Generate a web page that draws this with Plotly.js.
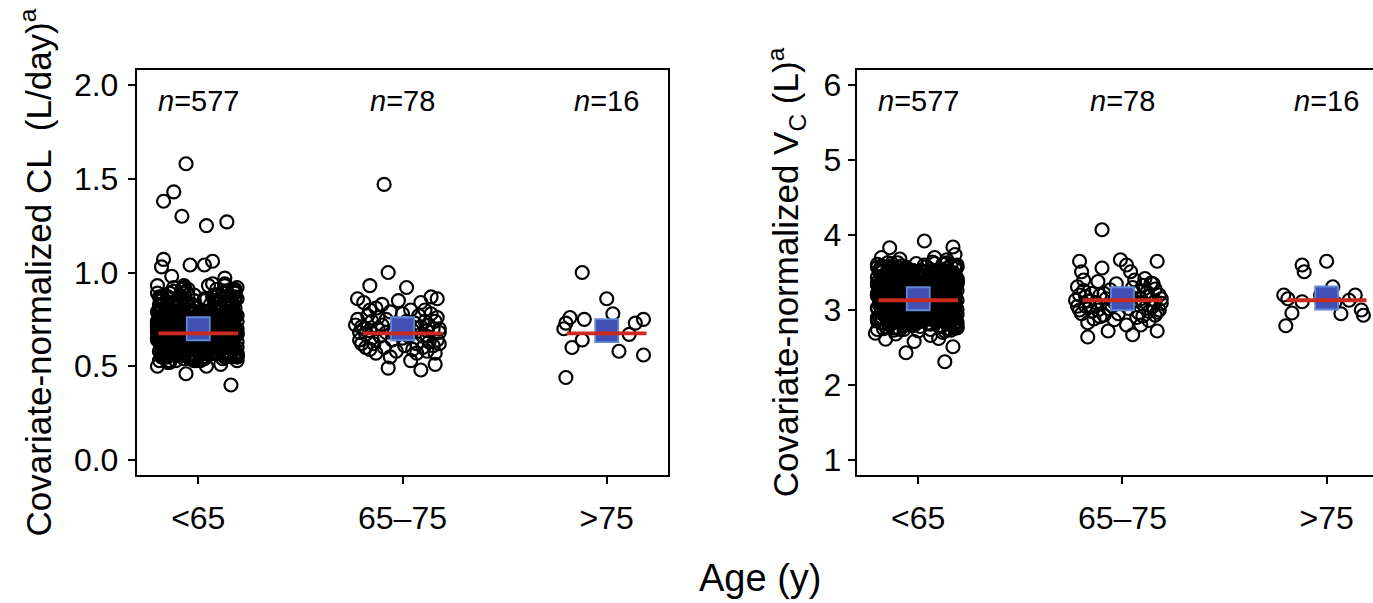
<!DOCTYPE html>
<html>
<head>
<meta charset="utf-8">
<script src="https://cdn.plot.ly/plotly-3.0.1.min.js"></script>
<style>
  html, body { margin: 0; padding: 0; background: #fff; }
  #chart { width: 1373px; height: 603px; }
</style>
</head>
<body>
<div id="chart"></div>
<script>
// Age categories shown on both panels
const ageGroups = ['<65', '65–75', '>75'];

// Horizontal jitter of the <65 subjects (shared by both panels)
const coreJitter0 = [
  -.12,.07,-.19,.15,-.03,.11,-.16,.02,.18,-.08,.05,-.14,.13,-.01,.09,-.18,.16,-.06,.03,-.10,
  .14,-.17,.04,-.09,.19,-.02,.10,-.13,.06,-.20,.12,-.05,.17,-.11,.01,.15,-.15,.08,-.07,.19,
  -.04,.16,-.11,.09,-.18,.03,.13,-.07,.18,-.15,.00,.11,-.20,.06,-.09,.14,-.02,.17,-.13,.05,
  .08,-.14,.18,-.01,.12,-.19,.04,-.10,.15,-.06,.19,-.16,.02,.10,-.12,.07,-.03,.13,-.17,.00,
  -.16,.11,-.05,.17,-.12,.06,-.20,.14,-.08,.02,.16,-.02,.09,-.18,.12,-.10,.04,-.14,.18,-.06,
  .03,-.18,.13,-.07,.09,-.15,.17,-.03,.05,-.11,.14,-.19,.08,-.04,.19,-.13,.01,.11,-.09,.16,
  -.09,.05,-.17,.12,-.01,.18,-.13,.07,-.20,.10,-.05,.15,-.10,.03,-.16,.13,.06,-.08,.17,-.14,
  .11,-.07,.02,-.15,.16,-.11,.08,-.19,.13,-.03,.06,-.17,.18,-.09,.04,-.13,.15,-.01,.10,-.18,
  -.19,.13,-.08,.04,-.14,.17,-.02,.09,-.12,.19,-.16,.07,-.05,.12,-.20,.01,.16,-.10,.06,-.04,
  .06,-.12,.16,-.19,.01,-.07,.11,-.15,.19,-.04,.09,-.18,.14,-.01,.07,-.11,.18,-.14,.03,-.08,
  -.02,.18,-.13,.10,-.17,.05,-.09,.15,-.06,.12,-.20,.02,.17,-.12,.08,-.15,.11,-.03,.14,-.19,
  .15,-.10,.07,-.16,.12,-.04,.19,-.12,.01,-.18,.14,-.07,.10,-.14,.17,-.02,.05,-.20,.09,-.06,
  -.13,.02,-.18,.14,-.06,.10,-.15,.17,-.03,.08,-.11,.19,-.17,.04,-.09,.11,-.01,.16,-.16,.12,
  .09,-.16,.12,-.03,.17,-.13,.04,-.08,.14,-.19,.07,-.10,.16,-.05,.11,-.17,.02,-.12,.19,-.01,
  -.07,.14,-.20,.06,-.10,.16,-.14,.01,.18,-.09,.03,-.16,.12,-.02,.15,-.18,.09,-.06,.13,-.11,
  .17,-.05,.09,-.17,.04,-.12,.15,-.09,.07,-.14,.19,-.01,.11,-.19,.02,-.07,.13,-.15,.05,-.03,
  -.15,.10,-.04,.19,-.11,.08,-.18,.12,-.01,.16,-.13,.05,-.20,.14,-.06,.18,-.09,.03,-.17,.07,
  .01,-.19,.14,-.08,.10,-.02,.16,-.16,.05,-.12,.17,-.04,.08,-.15,.13,-.10,.19,-.07,.00,.15,
  -.11,.17,-.06,.13,-.19,.03,-.14,.09,-.02,.18,-.08,.11,-.17,.06,-.13,.15,-.05,.10,-.20,.04,
  .12,-.08,.19,-.13,.06,-.16,.02,.14,-.10,.07,-.18,.16,-.04,.09,-.15,.01,.13,-.11,.17,-.06,
  -.05,.15,-.15,.08,-.20,.12,-.07,.18,-.12,.04,.10,-.17,.14,-.02,.07,-.14,.17,-.09,.02,-.18,
  .10,-.13,.05,-.18,.14,-.06,.11,-.11,.17,-.01,.13,-.19,.03,.16,-.08,.09,-.16,.12,-.04,.18,
  -.17,.09,-.10,.16,-.02,.13,-.19,.06,-.07,.15,-.12,.00,.18,-.15,.11,-.05,.08,-.18,.14,-.09,
  .04,-.11,.17,-.06,.11,-.20,.07,-.14,.19,-.03,.12,-.09,.06,-.16,.15,-.13,.03,-.01,.16,-.12,
  -.08,.19,-.12,.03,-.16,.14,-.05,.10,-.18,.08,-.02,.15,-.14,.11,-.19,.05,-.07,.18,-.10,.13,
  .16,-.04,.08,-.14,.18,-.10,.13,-.17,.02,-.06,.17,-.12,.09,-.20,.06,-.08,.14,-.03,.11,-.15,
  -.14,.06,-.16,.11,-.09,.19,-.01,.12,-.13,.16,-.18,.04,-.06,.17,-.11,.10,-.19,.08,-.04,.14,
  .13,-.15,.01,-.10,.15,-.07,.18,-.12,.05,-.17,.10,-.02,.16,-.09,.07,-.16,.12
];

// Covariate-normalized CL (L/day), age <65: bulk of subjects
const clCore0 = [
  .66,.71,.58,.83,.62,.69,.75,.54,.68,.91,.64,.72,.77,.60,.67,.86,.70,.63,.79,.56,
  .73,.61,.68,.88,.55,.65,.80,.70,.59,.74,.66,.84,.62,.69,.53,.76,.71,.64,.93,.67,
  .70,.57,.82,.64,.67,.74,.61,.89,.69,.52,.76,.65,.72,.60,.85,.68,.78,.63,.71,.58,
  .64,.79,.69,.55,.72,.87,.62,.66,.75,.59,.70,.81,.67,.63,.92,.73,.56,.68,.77,.61,
  .68,.60,.74,.83,.57,.71,.65,.90,.63,.77,.69,.54,.72,.80,.66,.62,.86,.70,.59,.75,
  .71,.65,.58,.78,.67,.84,.61,.73,.69,.53,.76,.64,.88,.70,.60,.72,.66,.82,.57,.74,
  .62,.75,.69,.56,.81,.67,.72,.94,.64,.59,.70,.78,.63,.85,.68,.55,.74,.66,.79,.61,
  .67,.73,.60,.87,.64,.70,.57,.76,.69,.83,.62,.66,.91,.71,.58,.75,.68,.53,.80,.65,
  .74,.63,.70,.55,.79,.66,.85,.61,.72,.68,.59,.77,.64,.89,.69,.56,.73,.82,.67,.60,
  .69,.58,.76,.65,.71,.92,.62,.80,.67,.54,.73,.68,.84,.60,.70,.63,.78,.57,.75,.66,
  .65,.81,.68,.59,.74,.70,.56,.86,.63,.77,.71,.61,.67,.90,.72,.55,.79,.64,.69,.83,
  .72,.64,.87,.60,.69,.76,.53,.71,.66,.82,.58,.74,.68,.62,.79,.70,.93,.65,.57,.73,
  .60,.77,.66,.71,.84,.57,.68,.74,.63,.88,.70,.55,.76,.65,.72,.81,.59,.67,.78,.62,
  .75,.68,.54,.80,.65,.72,.61,.86,.69,.58,.77,.64,.71,.91,.66,.60,.73,.83,.56,.70,
  .63,.70,.79,.57,.73,.67,.89,.62,.76,.68,.55,.81,.65,.72,.60,.85,.69,.74,.58,.66,
  .68,.56,.72,.83,.61,.75,.66,.59,.78,.70,.92,.64,.69,.53,.77,.71,.62,.87,.67,.73,
  .71,.62,.67,.77,.58,.85,.69,.73,.64,.55,.80,.66,.74,.60,.70,.90,.63,.76,.68,.57,
  .66,.79,.61,.70,.88,.64,.72,.56,.75,.68,.82,.59,.71,.65,.94,.73,.57,.69,.78,.62,
  .73,.59,.69,.76,.63,.54,.81,.67,.71,.86,.60,.74,.66,.79,.62,.70,.55,.84,.68,.72,
  .64,.72,.86,.58,.70,.66,.77,.61,.83,.69,.55,.74,.67,.91,.63,.78,.71,.57,.68,.75,
  .70,.66,.57,.80,.73,.62,.68,.89,.65,.75,.59,.71,.84,.64,.69,.53,.77,.72,.61,.82,
  .67,.84,.63,.71,.56,.76,.69,.60,.79,.66,.93,.72,.58,.74,.68,.81,.62,.70,.55,.87,
  .76,.61,.70,.65,.82,.58,.73,.68,.54,.85,.71,.64,.78,.60,.67,.88,.72,.57,.75,.69,
  .62,.74,.68,.90,.59,.71,.66,.79,.63,.56,.75,.69,.83,.61,.72,.67,.86,.58,.70,.77,
  .69,.57,.75,.64,.72,.81,.60,.68,.87,.66,.53,.74,.70,.62,.80,.65,.92,.71,.59,.76,
  .74,.66,.83,.59,.70,.63,.77,.55,.71,.85,.67,.61,.73,.89,.64,.69,.58,.78,.72,.65,
  .61,.72,.69,.86,.56,.74,.67,.80,.62,.71,.58,.76,.65,.91,.70,.63,.82,.68,.54,.73,
  .68,.75,.60,.79,.66,.71,.57,.84,.64,.73,.69,.88,.62,.77,.70,.55,.67
];
// CL, age <65: subjects away from the bulk (high and low values)
const clEdgeJitter0 = [-.06,-.12,-.17,-.08,.04,.14,-.06,.16,-.17,-.18,-.04,.07,.03,-.13,.13,-.20,-.20,.04,.11,-.14];
const clEdge0       = [1.58,1.43,1.38,1.30,1.25,1.27,.46,.40,1.07,1.03,1.04,1.06,1.04,.98,.97,.93,.50,.50,.51,.52];

// CL, age 65–75
const clJitter1 = [
  -.09,-.07,-.16,.02,.09,.14,.17,-.22,-.19,-.10,
  -.02,.17,-.22,-.20,-.23,-.16,-.15,.13,.18,.12,
  .16,.04,-.07,.09,.16,-.16,-.13,-.20,.10,.07,
  -.18,-.12,-.05,.00,.05,.11,.15,-.21,-.14,-.08,
  -.03,.03,.08,.13,.18,-.17,-.11,-.06,.01,.06,
  .10,.16,-.19,-.13,-.09,-.01,.04,.12,.14,-.21,
  -.15,-.10,-.04,.02,.07,.11,.17,-.18,-.12,-.06,
  .00,.05,.09,.15,-.16,-.08,.12,.18
];
const cl1 = [
  1.47,1.00,.93,.92,.84,.87,.86,.86,.84,.83,
  .85,.76,.75,.71,.72,.80,.74,.72,.62,.66,
  .57,.53,.49,.48,.51,.59,.57,.62,.60,.57,
  .67,.70,.64,.78,.69,.74,.70,.64,.62,.75,
  .58,.66,.77,.63,.68,.77,.66,.79,.61,.73,
  .66,.74,.70,.81,.60,.71,.80,.69,.78,.68,
  .65,.72,.68,.74,.62,.80,.64,.60,.76,.55,
  .65,.59,.71,.61,.69,.68,.58,.70
];

// CL, age >75
const clJitter2 = [-.12,.00,.03,-.18,-.11,-.20,-.21,.14,.18,.11,-.12,-.17,.06,.18,-.20,-.02];
const cl2       = [1.00,.86,.78,.76,.75,.73,.70,.73,.75,.67,.64,.60,.58,.56,.44,.71];

// Covariate-normalized Vc (L), age <65: bulk of subjects
const vcCore0 = [
  3.12,3.31,2.91,3.47,3.05,2.78,3.18,3.36,2.97,3.59,3.09,3.22,2.88,3.44,3.15,2.83,3.27,3.01,3.50,3.20,
  3.24,2.95,3.14,3.52,2.80,3.08,3.38,3.19,2.93,3.61,3.03,3.29,2.87,3.46,3.11,2.75,3.33,3.16,2.99,3.42,
  3.07,3.40,2.86,3.21,3.55,2.98,3.13,2.74,3.34,3.17,2.92,3.49,3.02,3.26,2.84,3.63,3.10,3.37,2.96,3.23,
  3.35,3.00,3.48,2.82,3.16,3.28,2.90,3.57,3.06,3.20,2.77,3.43,3.11,2.94,3.32,3.14,3.53,2.89,3.25,3.04,
  3.18,2.89,3.39,3.09,2.73,3.51,3.22,2.97,3.30,3.13,3.60,2.85,3.45,3.02,3.27,2.93,3.16,3.41,3.07,2.81,
  2.99,3.26,3.12,3.54,2.87,3.36,3.05,2.79,3.44,3.19,2.95,3.31,3.62,3.08,2.84,3.23,3.48,3.00,3.15,3.38,
  3.21,3.44,2.94,3.10,3.33,2.76,3.58,3.17,3.03,3.28,2.90,3.50,3.14,2.86,3.40,3.06,3.24,2.98,3.35,3.12,
  3.06,3.29,3.52,2.83,3.20,2.97,3.42,3.11,2.72,3.37,3.15,3.56,2.91,3.25,3.01,3.46,2.88,3.18,3.32,3.09,
  3.34,3.02,3.19,2.92,3.47,3.13,2.80,3.39,3.08,3.60,2.96,3.27,3.15,3.53,2.85,3.22,3.04,3.43,2.89,3.17,
  2.95,3.41,3.07,3.30,2.78,3.16,3.55,3.00,3.36,2.88,3.23,3.12,3.49,2.93,3.64,3.10,3.28,2.82,3.45,3.19,
  3.27,2.90,3.48,3.14,3.03,3.38,2.74,3.21,3.57,2.99,3.33,3.09,2.87,3.44,3.18,3.01,3.52,2.94,3.25,3.11,
  3.13,3.46,2.97,3.24,3.61,2.84,3.35,3.05,3.18,2.91,3.42,3.29,2.79,3.15,3.50,3.08,2.96,3.37,3.20,3.02,
  3.39,3.07,3.22,2.86,3.54,3.12,3.31,2.93,3.45,3.00,2.77,3.26,3.17,3.58,2.98,3.34,3.10,2.89,3.47,3.16,
  3.04,3.32,2.89,3.51,3.19,2.95,3.40,3.14,2.81,3.28,3.06,3.63,2.92,3.23,3.43,3.11,2.85,3.36,3.01,3.21,
  3.20,2.98,3.44,3.09,3.35,2.73,3.17,3.53,3.03,3.30,2.90,3.12,3.48,3.26,2.83,3.59,3.07,3.39,2.96,3.14,
  3.30,3.11,2.88,3.46,3.02,3.24,2.94,3.56,3.16,2.80,3.38,3.08,3.21,3.50,2.97,3.33,3.13,2.86,3.42,3.05,
  3.15,3.37,3.00,2.76,3.27,3.49,3.10,2.93,3.62,3.19,3.04,3.41,2.87,3.29,3.13,3.55,2.99,3.23,3.34,2.91,
  3.09,3.25,3.52,2.96,3.14,2.84,3.43,3.20,3.36,3.01,2.78,3.47,3.16,3.07,3.31,2.92,3.57,3.12,3.27,2.89,
  3.42,2.93,3.18,3.33,3.06,3.60,2.86,3.22,3.11,3.45,2.98,3.28,2.75,3.39,3.15,3.03,3.51,3.19,2.90,3.24,
  3.01,3.36,3.13,2.82,3.48,3.23,3.05,3.55,2.95,3.30,3.17,2.88,3.40,3.09,3.63,2.99,3.26,3.14,3.44,2.85,
  3.26,3.08,3.46,2.91,3.19,3.37,2.79,3.12,3.53,3.03,3.29,2.94,3.16,3.41,3.00,3.58,3.21,2.87,3.34,3.10,
  3.17,2.97,3.31,3.50,3.04,2.83,3.23,3.43,3.11,2.90,3.61,3.27,3.07,3.38,2.96,3.14,3.47,3.02,2.80,3.20,
  3.33,3.14,2.89,3.40,3.22,3.06,3.54,2.93,3.28,3.12,2.76,3.45,3.18,3.00,3.36,3.09,2.85,3.52,3.24,2.98,
  3.05,3.44,3.20,2.87,3.32,3.57,3.10,2.95,3.39,3.16,3.01,3.49,2.81,3.25,3.13,3.62,2.92,3.35,3.08,3.27,
  3.21,2.94,3.38,3.15,2.78,3.30,3.47,3.03,3.19,2.89,3.43,3.11,3.56,2.97,3.26,3.06,3.34,2.84,3.50,3.13,
  3.12,3.35,2.99,3.24,3.59,3.07,2.86,3.41,3.17,3.02,3.29,2.93,3.48,3.20,2.74,3.37,3.10,3.53,2.96,3.23,
  3.28,3.04,3.45,2.90,3.16,3.40,2.98,3.22,3.55,3.09,2.83,3.33,3.14,3.00,3.46,2.88,3.19,3.37,3.06,3.31,
  3.11,3.42,2.95,3.23,3.50,3.01,3.18,2.87,3.36,3.14,3.27,2.92,3.44,3.08,3.21,2.97,3.13
];
// Vc, age <65: subjects away from the bulk
const vcEdgeJitter0 = [.03,-.14,.17,.18,-.06,.13,.17,-.02,-.16,-.21,.10,.06,-.18,-.09,.08,.14,-.20,.00,.12,-.11];
const vcEdge0       = [3.92,3.83,3.84,3.74,2.43,2.31,2.51,2.58,2.61,2.69,2.62,2.66,3.70,3.68,3.70,3.67,2.74,2.72,2.70,2.68];

// Vc, age 65–75
const vcJitter1 = [
  -.10,-.21,-.20,-.10,-.01,.02,.04,.17,.14,.10,
  .19,.18,.16,.17,.05,-.07,-.17,.02,.09,-.11,
  -.22,-.23,-.21,-.17,-.19,-.12,-.09,-.15,-.18,-.05,
  -.13,-.06,-.16,-.02,.01,.06,.12,.15,.08,.13,
  .18,.11,.16,-.20,-.14,-.08,-.03,.03,.07,.10,
  .14,-.22,-.17,-.11,-.04,.00,.05,.09,.13,.17,
  -.19,-.12,-.07,-.01,.04,.08,.12,.16,-.21,-.15,
  -.09,-.04,.02,.06,.10,.15,-.18,.19
];
const vc1 = [
  4.07,3.65,3.51,3.56,3.67,3.60,3.51,3.65,3.36,3.33,
  3.09,3.00,2.93,2.72,2.67,2.72,2.64,2.80,2.80,2.91,
  3.31,3.13,3.00,2.83,3.40,3.00,2.93,3.22,3.18,3.05,
  3.10,3.27,3.05,2.95,3.20,3.12,3.18,3.05,3.25,2.98,
  3.20,3.42,3.28,2.95,2.88,3.15,3.35,3.02,2.90,3.08,
  3.14,3.05,3.12,3.20,3.10,3.08,3.30,3.15,2.86,2.97,
  3.26,3.38,3.02,3.13,3.18,2.96,3.24,3.12,3.20,2.98,
  3.22,2.87,3.10,3.40,2.92,3.35,3.05,3.15
];

// Vc, age >75
const vcJitter2 = [.00,-.12,-.11,.03,-.21,-.19,-.12,-.17,-.20,.07,.14,.11,.17,.18,-.03,.04];
const vc2       = [3.65,3.60,3.51,3.31,3.20,3.15,3.11,2.96,2.79,2.95,3.20,3.13,3.00,2.93,3.20,3.10];

// Group summaries (blue squares) and typical values (red lines)
const clGroupCenter = [0.70, 0.70, 0.69];
const clTypical = 0.675;
const vcGroupCenter = [3.15, 3.15, 3.16];
const vcTypical = 3.13;

// ---------------------------------------------------------------------------
const FONT = 'Liberation Sans, Arial, Helvetica, sans-serif';
const W = 1373, H = 603;
const yDomain = [128 / H, 533 / H];

const clGroups = [
  { jit: coreJitter0.concat(clEdgeJitter0), val: clCore0.concat(clEdge0) },
  { jit: clJitter1, val: cl1 },
  { jit: clJitter2, val: cl2 }
];
const vcGroups = [
  { jit: coreJitter0.concat(vcEdgeJitter0), val: vcCore0.concat(vcEdge0) },
  { jit: vcJitter1, val: vc1 },
  { jit: vcJitter2, val: vc2 }
];

function pointTrace(g, cat, xa, ya) {
  return {
    type: 'scatter', mode: 'markers',
    x: g.jit.map(j => cat + j), y: g.val,
    xaxis: xa, yaxis: ya,
    marker: { symbol: 'circle-open', size: 13, color: '#000', line: { width: 2.2, color: '#000' } },
    hoverinfo: 'skip', showlegend: false, cliponaxis: false
  };
}
function centerTrace(centers, xa, ya) {
  return {
    type: 'scatter', mode: 'markers',
    x: centers.map((_, i) => i), y: centers,
    xaxis: xa, yaxis: ya,
    marker: { symbol: 'square', size: 23, color: '#4250b3', line: { width: 1.8, color: '#6189d8' } },
    hoverinfo: 'skip', showlegend: false
  };
}

const traces = [];
clGroups.forEach((g, i) => traces.push(pointTrace(g, i, 'x', 'y')));
vcGroups.forEach((g, i) => traces.push(pointTrace(g, i, 'x2', 'y2')));
traces.push(centerTrace(clGroupCenter, 'x', 'y'));
traces.push(centerTrace(vcGroupCenter, 'x2', 'y2'));

const halfLine = 0.195;
const redLine = { color: '#cc2a1e', width: 3.8 };
const shapes = [];
ageGroups.forEach((_, i) => {
  shapes.push({ type: 'line', xref: 'x', yref: 'y', x0: i - halfLine, x1: i + halfLine,
    y0: clTypical, y1: clTypical, line: redLine, layer: 'above' });
  shapes.push({ type: 'line', xref: 'x2', yref: 'y2', x0: i - halfLine, x1: i + halfLine,
    y0: vcTypical, y1: vcTypical, line: redLine, layer: 'above' });
});

const annotations = [];
clGroups.forEach((g, i) => annotations.push({
  xref: 'x', yref: 'y domain', x: i, y: 0.9235, yanchor: 'middle', showarrow: false,
  text: '<i>n</i>=' + g.val.length, font: { family: FONT, size: 29, color: '#000' }
}));
vcGroups.forEach((g, i) => annotations.push({
  xref: 'x2', yref: 'y2 domain', x: i, y: 0.9235, yanchor: 'middle', showarrow: false,
  text: '<i>n</i>=' + g.val.length, font: { family: FONT, size: 29, color: '#000' }
}));
annotations.push({
  xref: 'paper', yref: 'paper', x: 760 / W, y: (H - 578) / H, xanchor: 'center', yanchor: 'middle',
  showarrow: false, text: 'Age (y)', font: { family: FONT, size: 38, color: '#000' }
});

const axisBase = {
  showline: true, linecolor: '#000', linewidth: 2.2,
  ticks: 'outside', ticklen: 7, tickwidth: 2, tickcolor: '#000',
  showgrid: false, zeroline: false, fixedrange: true,
  tickfont: { family: FONT, size: 32, color: '#000' }
};

const layout = {
  width: W, height: H,
  margin: { l: 0, r: 0, t: 0, b: 0 },
  paper_bgcolor: '#fff', plot_bgcolor: '#fff',
  showlegend: false,
  xaxis: Object.assign({}, axisBase, {
    domain: [137 / W, 668 / W], range: [-0.3, 2.3], anchor: 'y',
    tickvals: [0, 1, 2], ticktext: ageGroups, mirror: true, ticklabelstandoff: 6
  }),
  yaxis: Object.assign({}, axisBase, {
    domain: yDomain, range: [-0.08, 2.08], anchor: 'x',
    tickvals: [0, 0.5, 1, 1.5, 2], tickformat: '.1f', mirror: true, ticklabelstandoff: 3,
    title: { text: 'Covariate-normalized CL  (L/day)<sup>a</sup>', standoff: 12,
             font: { family: FONT, size: 35, color: '#000' } }
  }),
  xaxis2: Object.assign({}, axisBase, {
    domain: [857 / W, 1], range: [-0.3, 2.227], anchor: 'y2',
    tickvals: [0, 1, 2], ticktext: ageGroups, mirror: true, ticklabelstandoff: 6
  }),
  yaxis2: Object.assign({}, axisBase, {
    domain: yDomain, range: [0.8, 6.2], anchor: 'x2',
    tickvals: [1, 2, 3, 4, 5, 6], mirror: false, ticklabelstandoff: 0,
    title: { text: 'Covariate-normalized V<sub>C</sub> (L)<sup>a</sup>', standoff: 14,
             font: { family: FONT, size: 35, color: '#000' } }
  }),
  shapes: shapes,
  annotations: annotations
};

Plotly.newPlot('chart', traces, layout, { staticPlot: true, displayModeBar: false });
</script>
</body>
</html>
